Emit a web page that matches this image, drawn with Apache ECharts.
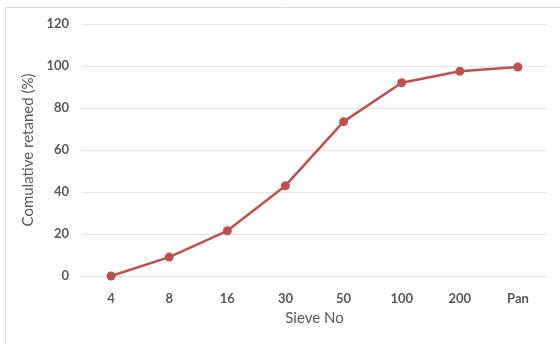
<!DOCTYPE html>
<html><head><meta charset="utf-8">
<script src="https://cdn.jsdelivr.net/npm/echarts@6/dist/echarts.min.js"></script>
<style>html,body{margin:0;padding:0;background:#fff;}#c{width:560px;height:344px;}</style>
</head><body><div id="c"></div>
<script>
var categories = ['4', '8', '16', '30', '50', '100', '200', 'Pan'];
var cumulativeRetained = [0, 9, 21.5, 43, 73.5, 92, 97.5, 99.5];
var yTicks = { min: 0, max: 120, interval: 20 };

var chart = echarts.init(document.getElementById('c'), null, { renderer: 'canvas' });
var font = 'Lato, "Open Sans", sans-serif';
chart.setOption({
  animation: false,
  backgroundColor: '#fff',
  graphic: [{
    type: 'rect', shape: { x: 5.5, y: 7.5, width: 600, height: 400 },
    style: { fill: 'none', stroke: '#d9d9d9', lineWidth: 1 }, silent: true
  }],
  grid: { left: 82, right: 13, top: 24, bottom: 68 },
  xAxis: {
    type: 'category', data: categories, boundaryGap: true,
    name: 'Sieve No', nameLocation: 'middle', nameGap: 35,
    nameTextStyle: { color: '#595959', fontSize: 15, fontWeight: 'normal', fontFamily: font },
    axisLine: { show: false }, axisTick: { show: false },
    axisLabel: { color: '#595959', fontSize: 13, fontWeight: 'bold', fontFamily: font, margin: 16 }
  },
  yAxis: {
    type: 'value', min: yTicks.min, max: yTicks.max, interval: yTicks.interval,
    name: 'Comulative retaned (%)', nameLocation: 'middle', nameGap: 41,
    nameTextStyle: { color: '#595959', fontSize: 15, fontWeight: 'normal', fontFamily: font },
    axisLine: { show: false }, axisTick: { show: false },
    axisLabel: { color: '#595959', fontSize: 13, fontWeight: 'bold', fontFamily: font, margin: 13 },
    splitLine: { lineStyle: { color: '#e6e6e6', width: 1 } }
  },
  series: [{
    type: 'line', data: cumulativeRetained,
    symbol: 'circle', symbolSize: 9,
    lineStyle: { color: '#C0504D', width: 2.5 },
    itemStyle: { color: '#C0504D' }
  }]
});
</script></body></html>
